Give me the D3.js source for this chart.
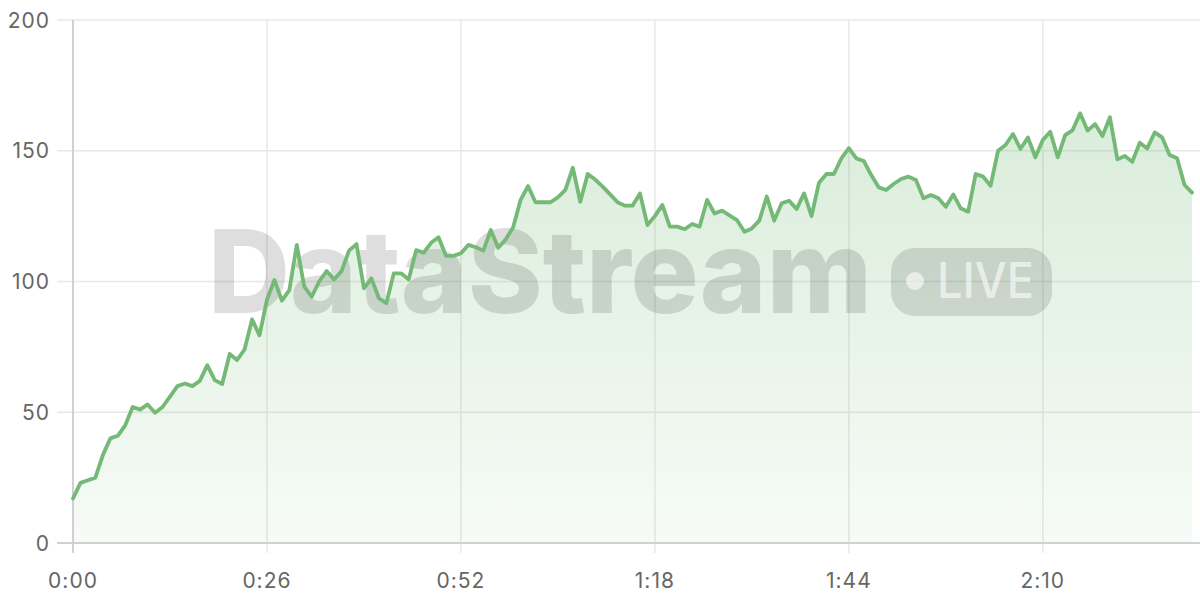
<!DOCTYPE html>
<html><head><meta charset="utf-8">
<script src="https://cdn.jsdelivr.net/npm/d3@7"></script>
<style>html,body{margin:0;padding:0;background:#fff;}svg{display:block;}</style>
</head><body>
<svg id="chart" width="1200" height="600"></svg>
<script>
const values = [17,23,24,25,33.6,40,41,45,52,51,53,49.8,52,56,60,61,60,62,68,62.3,60.8,72.3,70,74,85.5,79.4,
93,100.6,92.7,96.7,114,98,94.2,100,104,100.8,104,111.8,114.3,97.4,101.2,93.6,91.7,103.1,103.1,100.8,112,111,114.8,116.9,
109.8,109.8,110.8,114,113.1,111.8,119.7,112.9,116.1,120.7,131.2,136.5,130.3,130.3,130.3,132.2,135,143.5,130.5,141.1,
139,136.3,133.3,130.3,129,129,133.7,121.6,125,129.3,121,121,120,122,121,131.2,126,127.1,125.3,123.5,
119,120.3,123.3,132.5,123.3,129.9,130.9,127.7,133.7,125,137.8,141.1,141.1,147.1,151,147.1,146.1,140.7,136,135,
137.3,139.2,140.1,138.8,131.8,133.1,131.8,128.6,133.3,128,126.7,141.1,140.1,136.6,150,152.2,156.4,150.7,155.1,147.5,
154.1,157.3,147.5,156,157.9,164.3,157.7,160.2,155.6,162.8,146.7,148,145.8,153.1,150.9,157,155.1,148.4,147.1,136.9,134];
const seconds = values.map((v,i)=>i);
const xTicks = [0,26,52,78,104,130];
const xTickLabels = ["0:00","0:26","0:52","1:18","1:44","2:10"];
const yTicks = [0,50,100,150,200];
const watermark = "DataStream";
const badge = "LIVE";

const svg = d3.select("#chart");
const x = d3.scaleLinear().domain([0,150]).range([73,1192]);
const y = d3.scaleLinear().domain([0,200]).range([543,20]);
const green = "#74b976";
const font = "Inter, 'Liberation Sans', Arial, sans-serif";

const defs = svg.append("defs");
const grad = defs.append("linearGradient").attr("id","ag").attr("gradientUnits","userSpaceOnUse")
  .attr("x1",0).attr("x2",0).attr("y1",y(165)).attr("y2",y(0));
grad.append("stop").attr("offset",0).attr("stop-color",green).attr("stop-opacity",0.27);
grad.append("stop").attr("offset",1).attr("stop-color",green).attr("stop-opacity",0.06);

svg.append("g").selectAll("line").data(yTicks.filter(d=>d>0)).join("line")
  .attr("x1",57).attr("x2",1200).attr("y1",d=>y(d)).attr("y2",d=>y(d))
  .attr("stroke","#e8e8e8").attr("stroke-width",1.5);
svg.append("g").selectAll("line").data(xTicks.filter(d=>d>0)).join("line")
  .attr("x1",d=>x(d)).attr("x2",d=>x(d)).attr("y1",y(200)).attr("y2",553)
  .attr("stroke","#e8e8e8").attr("stroke-width",1.5);

const area = d3.area().x((d,i)=>x(seconds[i])).y0(y(0)).y1(d=>y(d));
svg.append("path").datum(values).attr("d",area).attr("fill","url(#ag)");

svg.append("line").attr("x1",x(0)).attr("x2",x(0)).attr("y1",y(200)).attr("y2",553)
  .attr("stroke","#d0d0d0").attr("stroke-width",2);
svg.append("line").attr("x1",57).attr("x2",1200).attr("y1",y(0)).attr("y2",y(0))
  .attr("stroke","#d0d0d0").attr("stroke-width",2);

const wm = svg.append("g");
wm.append("text").attr("x",208).attr("y",313).text(watermark)
  .attr("font-family",font).attr("font-weight",800).attr("font-size",115)
  .attr("textLength",664).attr("lengthAdjust","spacingAndGlyphs")
  .attr("fill","#000").attr("fill-opacity",0.13);
wm.append("rect").attr("x",891).attr("y",248).attr("width",161).attr("height",68).attr("rx",24)
  .attr("fill","#000").attr("fill-opacity",0.12);
wm.append("circle").attr("cx",915).attr("cy",281).attr("r",9).attr("fill","#fff").attr("fill-opacity",0.6);
wm.append("text").attr("x",937).attr("y",298).text(badge)
  .attr("font-family",font).attr("font-weight",500).attr("font-size",50)
  .attr("textLength",97).attr("lengthAdjust","spacingAndGlyphs")
  .attr("fill","#fff").attr("fill-opacity",0.6);

const line = d3.line().x((d,i)=>x(seconds[i])).y(d=>y(d));
svg.append("path").datum(values).attr("d",line).attr("fill","none")
  .attr("stroke",green).attr("stroke-width",3.8).attr("stroke-linejoin","round").attr("stroke-linecap","round");

svg.append("g").selectAll("text").data(yTicks).join("text")
  .attr("x",50).attr("y",d=>y(d)).attr("dy","0.36em").attr("text-anchor","end")
  .attr("font-family",font).attr("font-size",21).attr("letter-spacing",1).attr("fill","#666").text(d=>d);
svg.append("g").selectAll("text").data(xTicks).join("text")
  .attr("x",d=>x(d)).attr("y",580).attr("dy","0.36em").attr("text-anchor","middle")
  .attr("font-family",font).attr("font-size",21).attr("letter-spacing",1).attr("fill","#666").text((d,i)=>xTickLabels[i]);
</script>
</body></html>
